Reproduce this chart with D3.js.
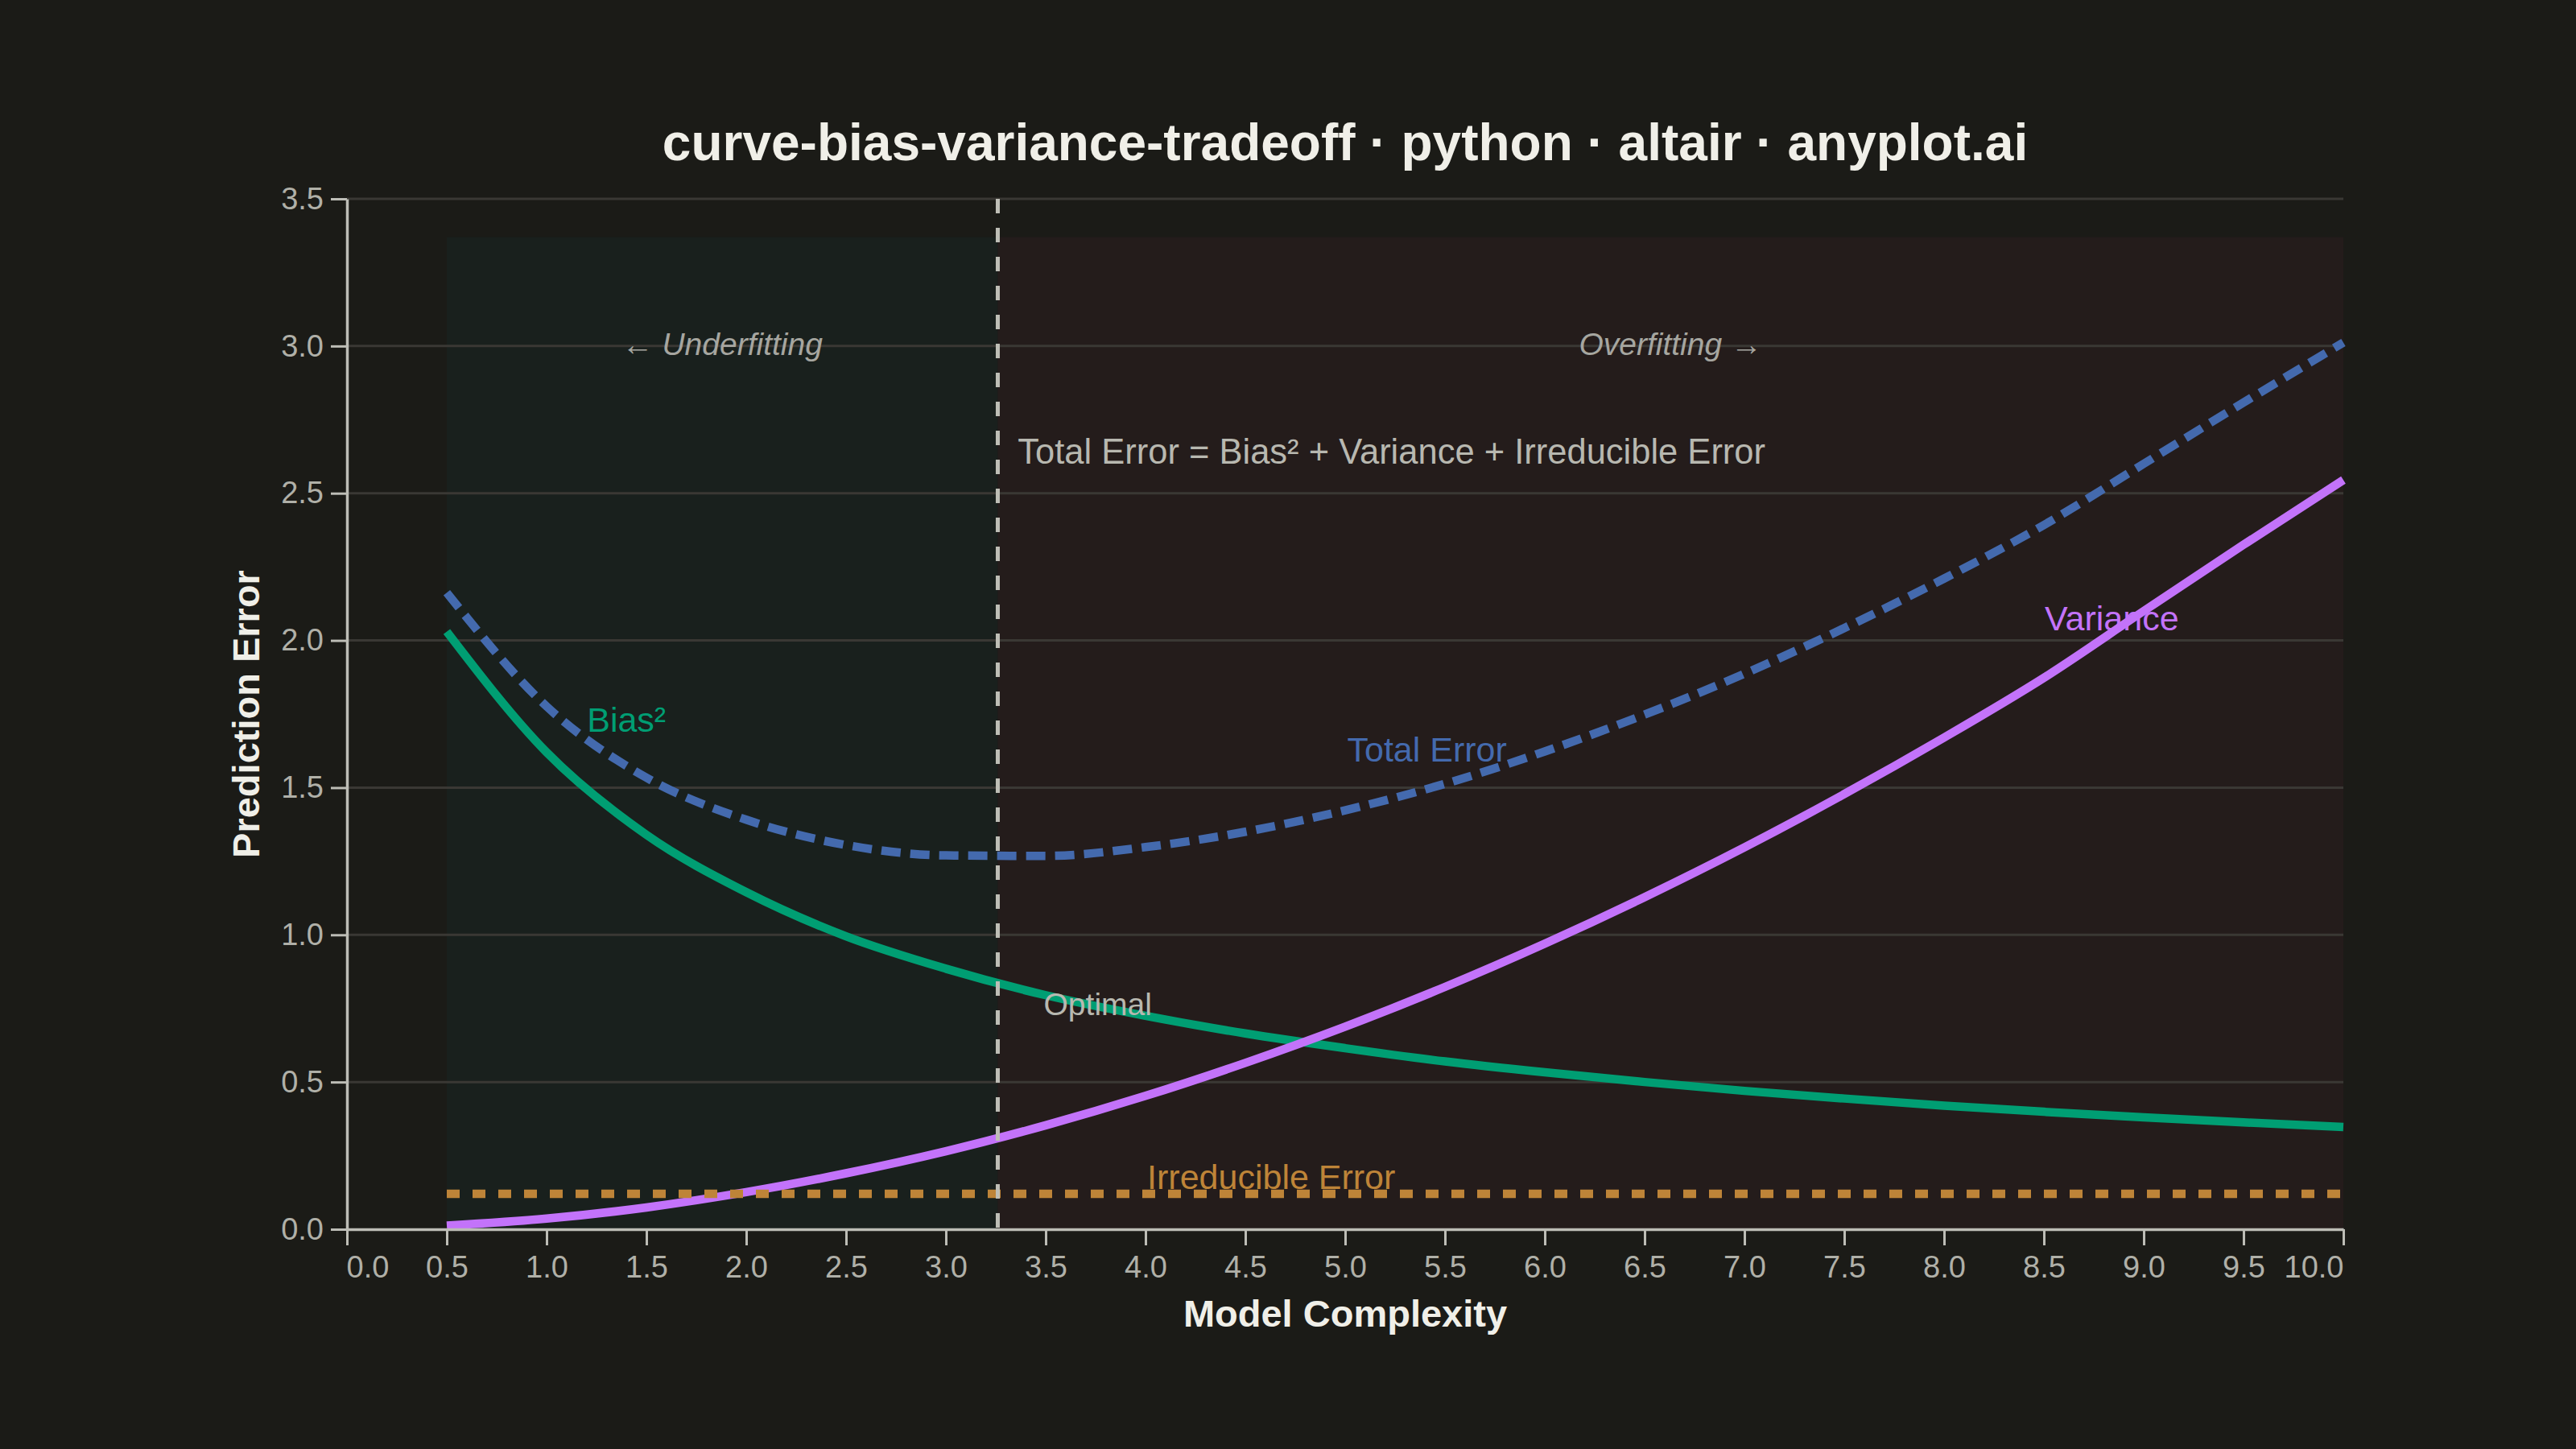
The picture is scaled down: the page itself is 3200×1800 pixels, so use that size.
<!DOCTYPE html>
<html>
<head>
<meta charset="utf-8">
<script src="https://cdn.jsdelivr.net/npm/d3@7/dist/d3.min.js"></script>
<style>
  html, body { margin: 0; padding: 0; background: #1b1b17; }
  svg text { font-family: "Liberation Sans", Arial, sans-serif; }
</style>
</head>
<body>
<div id="chart"></div>
<script>
// values
var complexity = [0.5, 1.0, 1.5, 2.0, 2.5, 3.0, 3.5, 4.0, 4.5, 5.0,
                  5.5, 6.0, 6.5, 7.0, 7.5, 8.0, 8.5, 9.0, 9.5, 10.0];
var bias2      = [2.03, 1.62, 1.34, 1.145, 0.995, 0.885, 0.795, 0.725, 0.665, 0.615,
                  0.570, 0.533, 0.500, 0.470, 0.444, 0.420, 0.399, 0.380, 0.363, 0.347];
var variance   = [0.012, 0.036, 0.074, 0.126, 0.190, 0.265, 0.353, 0.453, 0.565, 0.688,
                  0.823, 0.970, 1.128, 1.297, 1.478, 1.670, 1.873, 2.100, 2.325, 2.545];
var totalError = [2.162, 1.776, 1.534, 1.391, 1.305, 1.270, 1.268, 1.298, 1.350, 1.423,
                  1.513, 1.623, 1.748, 1.887, 2.042, 2.210, 2.392, 2.600, 2.808, 3.012];
var irreducible = 0.12;
var optimalX = 3.26;
var regionTop = 3.37;

var xTicks = [0, 0.5, 1, 1.5, 2, 2.5, 3, 3.5, 4, 4.5, 5, 5.5, 6, 6.5, 7, 7.5, 8, 8.5, 9, 9.5, 10];
var yTicks = [0, 0.5, 1, 1.5, 2, 2.5, 3, 3.5];

// label anchors (data coords)
var curveLabels = [
  {text: "Bias\u00b2", x: 1.40, y: 1.69, color: "#009e73"},
  {text: "Total Error", x: 5.41, y: 1.59, color: "#446aae"},
  {text: "Variance", x: 8.84, y: 2.035, color: "#c373fa"},
  {text: "Irreducible Error", x: 4.63, y: 0.137, color: "#be8438"}
];

var W = 3200, H = 1800;
var plot = {left: 431, right: 2911, top: 247, bottom: 1527};

var svg = d3.select("#chart").append("svg")
  .attr("width", W).attr("height", H);

svg.append("rect").attr("width", W).attr("height", H).attr("fill", "#1b1b17");

var x = d3.scaleLinear().domain([0, 10]).range([plot.left, plot.right]);
var y = d3.scaleLinear().domain([0, 3.5]).range([plot.bottom, plot.top]);

// shaded regions
var regions = [
  {x0: complexity[0], x1: optimalX, fill: "#19201d"},
  {x0: optimalX, x1: 10, fill: "#241c1b"}
];
svg.selectAll(".region").data(regions).enter().append("rect")
  .attr("class", "region")
  .attr("x", function(d) { return x(d.x0); })
  .attr("y", y(regionTop))
  .attr("width", function(d) { return x(d.x1) - x(d.x0); })
  .attr("height", y(0) - y(regionTop))
  .attr("fill", function(d) { return d.fill; });

// gridlines
svg.selectAll(".grid").data(yTicks.slice(1)).enter().append("line")
  .attr("class", "grid")
  .attr("x1", plot.left).attr("x2", plot.right)
  .attr("y1", function(d) { return y(d); })
  .attr("y2", function(d) { return y(d); })
  .attr("stroke", "#3c3a36")
  .attr("stroke-opacity", 0.95)
  .attr("stroke-width", 3);

// region labels
svg.append("text")
  .attr("x", x((complexity[0] + optimalX) / 2)).attr("y", y(3.0) + 11)
  .attr("text-anchor", "middle")
  .attr("font-size", 39).attr("font-style", "italic")
  .attr("fill", "#a6a6a0")
  .text("\u2190 Underfitting");
svg.append("text")
  .attr("x", x((optimalX + 10) / 2)).attr("y", y(3.0) + 11)
  .attr("text-anchor", "middle")
  .attr("font-size", 39).attr("font-style", "italic")
  .attr("fill", "#a6a6a0")
  .text("Overfitting \u2192");

var pts = function(arr) {
  return complexity.map(function(c, i) { return [c, arr[i]]; });
};
var line = d3.line()
  .x(function(d) { return x(d[0]); })
  .y(function(d) { return y(d[1]); })
  .curve(d3.curveMonotoneX);

svg.append("path").datum(pts(bias2))
  .attr("d", line).attr("fill", "none")
  .attr("stroke", "#009e73").attr("stroke-width", 10.5);

svg.append("path").datum(pts(variance))
  .attr("d", line).attr("fill", "none")
  .attr("stroke", "#c373fa").attr("stroke-width", 10.5);

svg.append("line")
  .attr("x1", x(complexity[0])).attr("x2", x(10))
  .attr("y1", y(irreducible)).attr("y2", y(irreducible))
  .attr("stroke", "#be8438").attr("stroke-width", 10.5)
  .attr("stroke-dasharray", "16,16");

svg.append("path").datum(pts(totalError))
  .attr("d", line).attr("fill", "none")
  .attr("stroke", "#446aae").attr("stroke-width", 10.5)
  .attr("stroke-dasharray", "24,12");

// optimal rule
svg.append("line")
  .attr("x1", x(optimalX)).attr("x2", x(optimalX))
  .attr("y1", y(3.5)).attr("y2", y(0))
  .attr("stroke", "#bebeb6").attr("stroke-width", 5)
  .attr("stroke-dasharray", "18,18");

// axes
var xAxis = svg.append("g")
  .attr("transform", "translate(0," + plot.bottom + ")")
  .call(d3.axisBottom(x).tickValues(xTicks).tickFormat(d3.format(".1f"))
    .tickSize(20).tickSizeOuter(0).tickPadding(13));
var yAxis = svg.append("g")
  .attr("transform", "translate(" + plot.left + ",0)")
  .call(d3.axisLeft(y).tickValues(yTicks).tickFormat(d3.format(".1f"))
    .tickSize(20).tickSizeOuter(0).tickPadding(9));

[xAxis, yAxis].forEach(function(g) {
  g.select(".domain").attr("stroke", "#bdbdb6").attr("stroke-width", 3.5);
  g.selectAll(".tick line").attr("stroke", "#bdbdb6").attr("stroke-width", 3);
  g.selectAll(".tick text")
    .attr("fill", "#b0b0a8")
    .attr("font-size", 38)
    .attr("font-family", "Liberation Sans, Arial, sans-serif");
});
xAxis.selectAll(".tick text")
  .attr("text-anchor", function(d, i) {
    return i === 0 ? "start" : (i === xTicks.length - 1 ? "end" : "middle");
  })
  .attr("dx", function(d, i) { return i === 0 ? -1 : 0; });

// curve labels
svg.selectAll(".clabel").data(curveLabels).enter().append("text")
  .attr("class", "clabel")
  .attr("x", function(d) { return x(d.x); })
  .attr("y", function(d) { return y(d.y); })
  .attr("text-anchor", "middle")
  .attr("font-size", 43)
  .attr("fill", function(d) { return d.color; })
  .text(function(d) { return d.text; });

svg.append("text")
  .attr("x", x(optimalX + 0.23)).attr("y", y(0.727))
  .attr("font-size", 39).attr("fill", "#b8b8b0")
  .text("Optimal");

svg.append("text")
  .attr("x", x(optimalX + 0.1)).attr("y", y(2.60))
  .attr("font-size", 43.5).attr("fill", "#b8b8b0")
  .text("Total Error = Bias\u00b2 + Variance + Irreducible Error");

// titles
svg.append("text")
  .attr("x", (plot.left + plot.right) / 2).attr("y", 199)
  .attr("text-anchor", "middle")
  .attr("font-size", 64).attr("font-weight", "bold")
  .attr("fill", "#f0efe8")
  .text("curve-bias-variance-tradeoff \u00b7 python \u00b7 altair \u00b7 anyplot.ai");

svg.append("text")
  .attr("x", (plot.left + plot.right) / 2).attr("y", 1648)
  .attr("text-anchor", "middle")
  .attr("font-size", 47).attr("font-weight", "bold")
  .attr("fill", "#f0efe8")
  .text("Model Complexity");

svg.append("text")
  .attr("transform", "translate(322," + ((plot.top + plot.bottom) / 2) + ") rotate(-90)")
  .attr("text-anchor", "middle")
  .attr("font-size", 47).attr("font-weight", "bold")
  .attr("fill", "#f0efe8")
  .text("Prediction Error");
</script>
</body>
</html>
